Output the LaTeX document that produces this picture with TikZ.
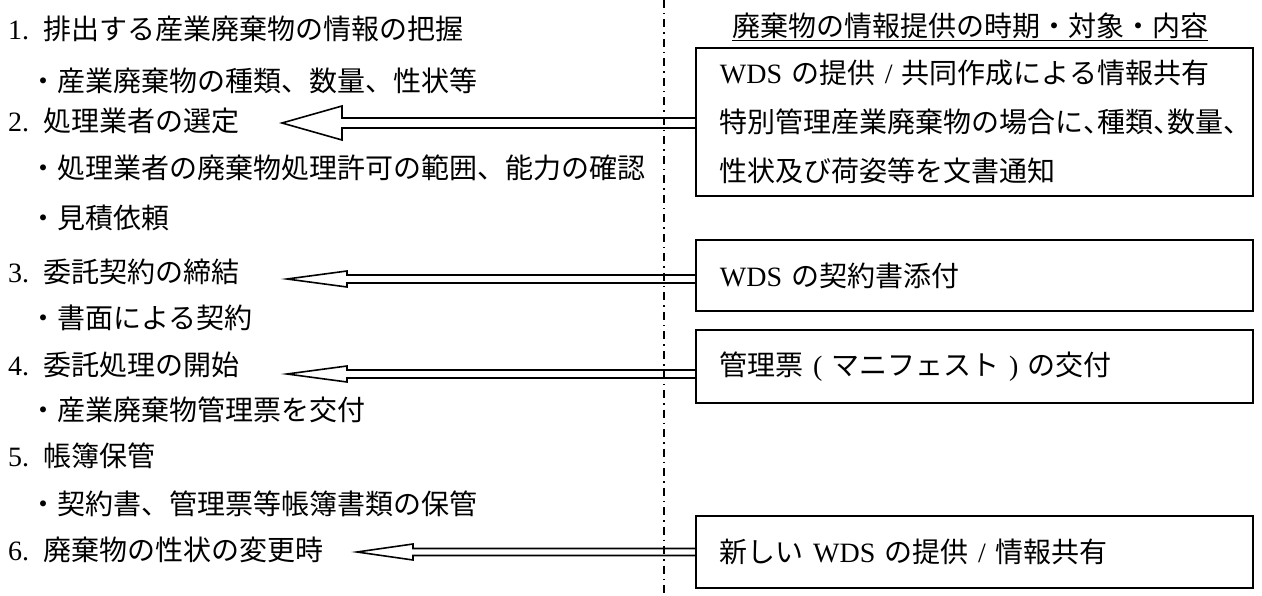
\documentclass[tikz,border=0pt]{standalone}
\usepackage{fontspec}
\setmainfont{Liberation Serif}
\newfontfamily\jp{Noto Sans CJK JP}
\newfontfamily\lat{Liberation Serif}
\usetikzlibrary{calc}
% half-width comma
\newcommand{\hc}{\makebox[0.5em][l]{、}}
% hollow block arrow: box, tip, head length, head half-height, shaft half-height
\newcommand{\blockarrow}[5]{%
  \draw[hollow] ($(#1.west |- #2)+(0,-#5)$) -- ($(#2)+(#3,-#5)$) -- ($(#2)+(#3,-#4)$)
    -- (#2) -- ($(#2)+(#3,#4)$) -- ($(#2)+(#3,#5)$) -- ($(#1.west |- #2)+(0,#5)$);}

\begin{document}
\begin{tikzpicture}[x=1pt,y=-1pt,
                    every node/.style={font=\jp\fontsize{28pt}{34pt}\selectfont}]
  \tikzstyle{item}=[anchor=west,inner sep=0pt]
  \tikzstyle{infobox}=[draw,line width=1.8pt,anchor=north west,inner xsep=24pt,
                       text width=509pt,align=left,
                       font=\jp\fontsize{28pt}{49pt}\selectfont]
  \tikzstyle{hollow}=[line width=1.6pt,line join=miter]
  \tikzstyle{divider}=[line width=1.2pt,dash pattern=on 8pt off 5pt on 1.5pt off 5pt]

  \useasboundingbox (0,0) rectangle (1262,596);

  % left: steps
  \node[item] (i1)  at (8,29)   {{\lat 1.}\enspace 排出する産業廃棄物の情報の把握};
  \node[item] (s1)  at (29,81)  {・産業廃棄物の種類、数量、性状等};
  \node[item] (i2)  at (8,121)  {{\lat 2.}\enspace 処理業者の選定};
  \node[item] (s2a) at (29,168) {・処理業者の廃棄物処理許可の範囲、能力の確認};
  \node[item] (s2b) at (29,218) {・見積依頼};
  \node[item] (i3)  at (8,272)  {{\lat 3.}\enspace 委託契約の締結};
  \node[item] (s3)  at (29,318) {・書面による契約};
  \node[item] (i4)  at (8,365)  {{\lat 4.}\enspace 委託処理の開始};
  \node[item] (s4)  at (29,410) {・産業廃棄物管理票を交付};
  \node[item] (i5)  at (8,456)  {{\lat 5.}\enspace 帳簿保管};
  \node[item] (s5)  at (29,504) {・契約書、管理票等帳簿書類の保管};
  \node[item] (i6)  at (8,550)  {{\lat 6.}\enspace 廃棄物の性状の変更時};

  % divider
  \coordinate (dtop) at (664,0);
  \coordinate (dbot) at (664,596);
  \draw[divider] (dtop) -- (dbot);

  % right: information boxes
  \node (head) at (970,27) {\underline{廃棄物の情報提供の時期・対象・内容}};
  \node[infobox,minimum height=148pt] (b1) at (695,47)
       {{\lat WDS} の提供 {\lat /} 共同作成による情報共有\\
        特別管理産業廃棄物の場合に\hc 種類\hc 数量\hc\\
        性状及び荷姿等を文書通知};
  \node[infobox,minimum height=71pt] (b2) at (695,239) {{\lat WDS} の契約書添付};
  \node[infobox,minimum height=73pt] (b3) at (695,329)
       {管理票 {\lat (} マニフェスト {\lat )} の交付};
  \node[infobox,minimum height=72pt] (b4) at (695,515)
       {新しい {\lat WDS} の提供 {\lat /} 情報共有};

  % arrows
  \coordinate (t2) at (282,123);
  \coordinate (t3) at (287,279);
  \coordinate (t4) at (287,374);
  \coordinate (t6) at (357,552);
  \blockarrow{b1}{t2}{60}{17}{5}
  \blockarrow{b2}{t3}{60}{8}{4}
  \blockarrow{b3}{t4}{60}{8}{4}
  \blockarrow{b4}{t6}{56}{8}{3.5}
\end{tikzpicture}
\end{document}
